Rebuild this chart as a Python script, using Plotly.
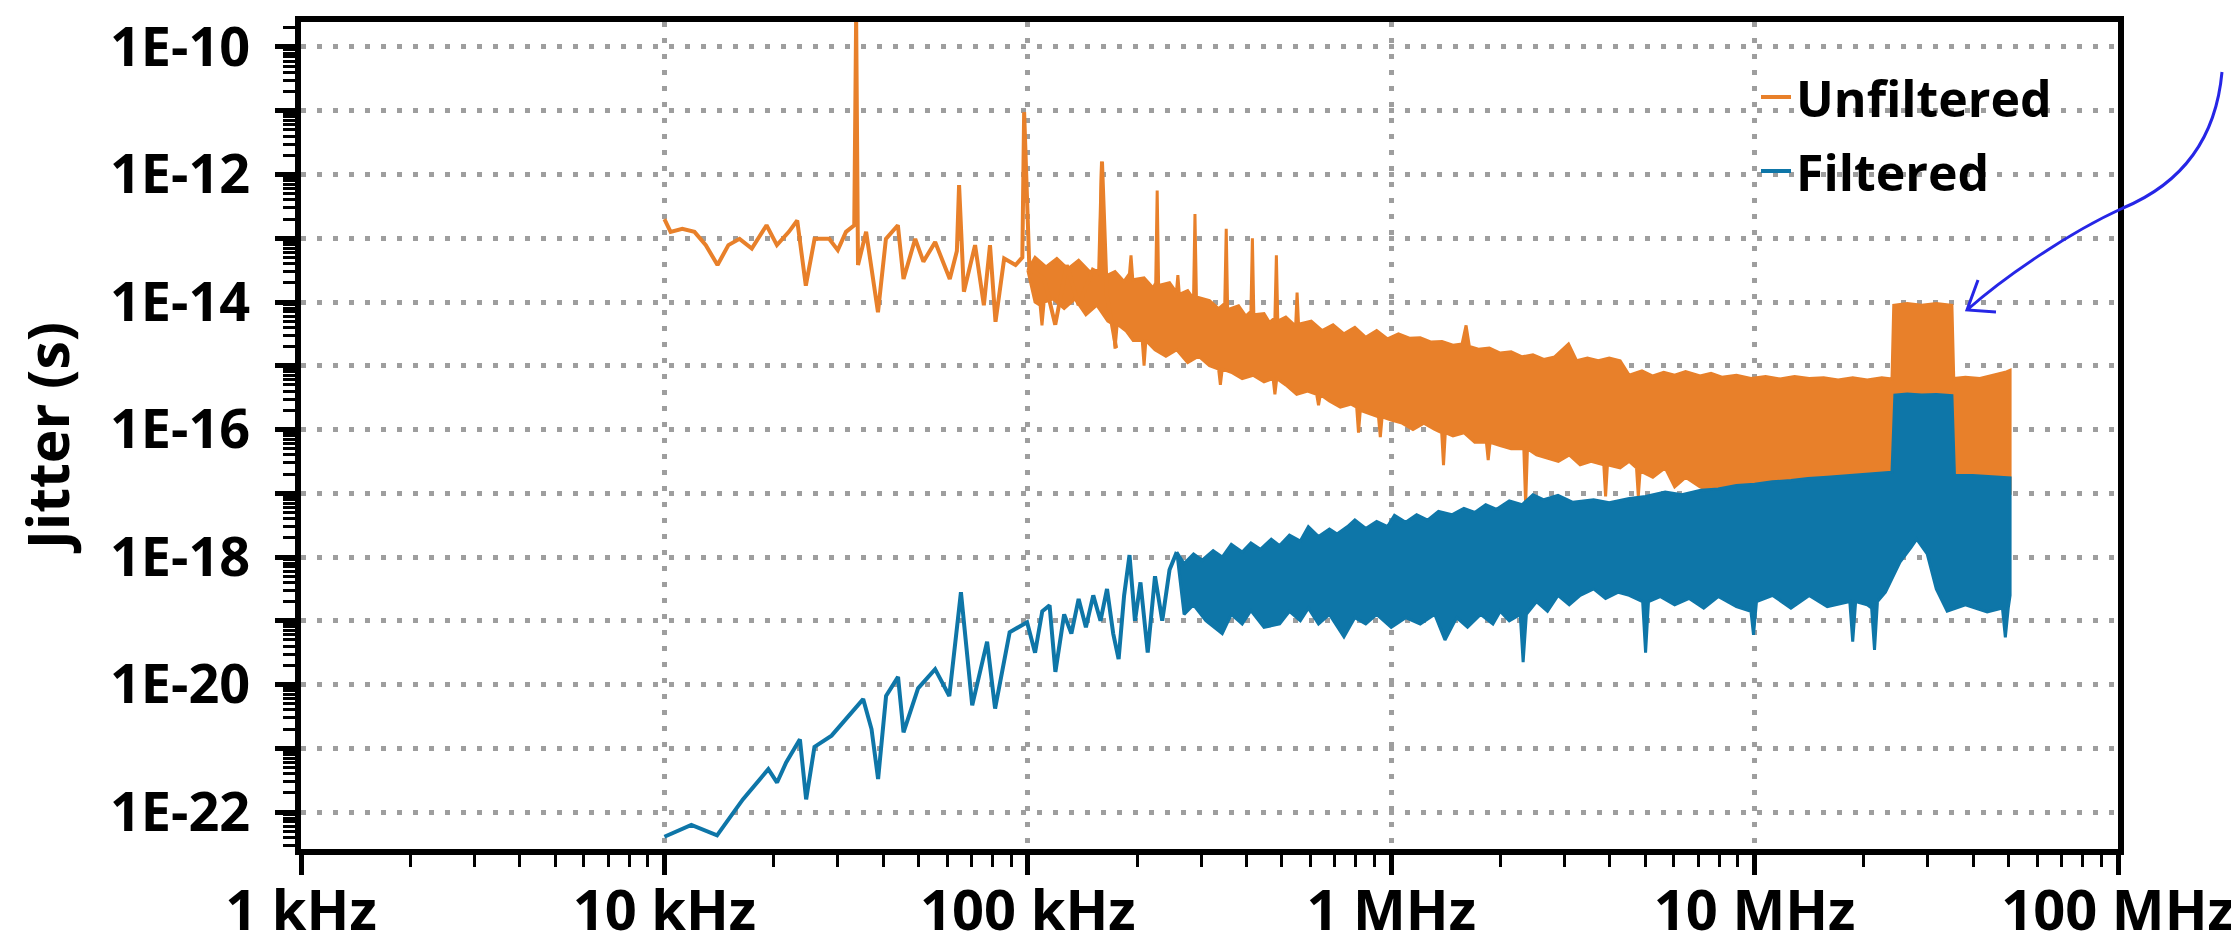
import plotly.graph_objects as go

# ---------------- axis ticks ----------------
freq_ticks = [1e3, 1e4, 1e5, 1e6, 1e7, 1e8]
freq_labels = ["1 kHz", "10 kHz", "100 kHz", "1 MHz", "10 MHz", "100 MHz"]
jit_ticks = [1e-22, 1e-21, 1e-20, 1e-19, 1e-18, 1e-17, 1e-16, 1e-15, 1e-14,
             1e-13, 1e-12, 1e-11, 1e-10]
jit_labels = ["1E-22", "", "1E-20", "", "1E-18", "", "1E-16", "", "1E-14",
              "", "1E-12", "", "1E-10"]
freq_minor = [m * 10 ** e for e in range(3, 8) for m in range(2, 10)]
jit_minor = [m * 10.0 ** e for e in range(-23, -9) for m in range(2, 10)]

# ---------------- Unfiltered: resolved low-frequency trace ----------------
unf_f = [1.00e4, 1.04e4, 1.12e4, 1.21e4, 1.30e4, 1.40e4, 1.50e4, 1.61e4, 1.74e4,
         1.91e4, 2.04e4, 2.20e4, 2.32e4, 2.45e4, 2.59e4, 2.84e4, 3.00e4, 3.16e4,
         3.33e4, 3.37e4, 3.41e4, 3.59e4, 3.87e4, 4.07e4, 4.39e4, 4.55e4, 4.90e4,
         5.16e4, 5.56e4, 6.10e4, 6.38e4, 6.47e4, 6.67e4, 7.16e4, 7.57e4, 7.87e4,
         8.15e4, 8.61e4, 9.25e4, 9.66e4, 9.77e4, 1.01e5, 1.11e5, 1.19e5, 1.28e5,
         1.38e5, 1.51e5, 1.58e5, 1.60e5, 1.65e5, 1.75e5]
unf_y = [2.0e-13, 1.26e-13, 1.41e-13, 1.26e-13, 7.8e-14, 3.8e-14, 7.8e-14, 9.8e-14, 6.9e-14,
         1.6e-13, 7.8e-14, 1.26e-13, 1.9e-13, 1.8e-14, 9.8e-14, 9.8e-14, 6.5e-14, 1.26e-13,
         1.6e-13, 3.0e-10, 3.8e-14, 1.26e-13, 6.9e-15, 9.8e-14, 1.6e-13, 2.3e-14, 9.8e-14,
         4.3e-14, 8.7e-14, 2.3e-14, 6.3e-14, 6.8e-13, 1.45e-14, 7.8e-14, 8.9e-15, 7.8e-14,
         4.9e-15, 4.8e-14, 3.8e-14, 5.0e-14, 9.5e-12, 3.4e-14, 2.3e-14, 4.4e-15, 3.8e-14,
         8.9e-15, 3.2e-14, 2.8e-14, 1.6e-12, 1.26e-14, 1.9e-15]

# ---------------- Unfiltered: dense band (upper / lower envelope) ----------------
unf_up_f = [1.00e5, 1.047e5, 1.122e5, 1.202e5, 1.288e5, 1.38e5, 1.479e5, 1.567e5, 1.596e5,
            1.626e5, 1.738e5, 1.84e5, 1.905e5, 1.923e5, 1.945e5, 2.089e5, 2.213e5, 2.249e5,
            2.27e5, 2.291e5, 2.455e5, 2.564e5, 2.588e5, 2.612e5, 2.754e5, 2.858e5, 2.884e5,
            2.911e5, 3.162e5, 3.35e5, 3.483e5, 3.516e5, 3.548e5, 3.802e5, 3.98e5, 4.111e5,
            4.15e5, 4.188e5, 4.467e5, 4.62e5, 4.786e5, 4.831e5, 4.875e5, 5.129e5, 5.458e5,
            5.508e5, 5.559e5, 6.026e5, 6.457e5, 6.918e5, 7.413e5, 7.943e5, 8.511e5, 9.12e5,
            9.772e5, 1.047e6, 1.122e6, 1.202e6, 1.288e6, 1.38e6, 1.479e6, 1.567e6, 1.607e6,
            1.641e6, 1.738e6, 1.862e6, 1.995e6, 2.138e6, 2.291e6, 2.455e6, 2.63e6, 2.818e6,
            3.076e6, 3.236e6, 3.467e6, 3.715e6, 3.981e6, 4.266e6, 4.519e6, 4.898e6, 5.248e6,
            5.623e6, 6.026e6, 6.457e6, 7.079e6, 7.586e6, 8.128e6, 8.913e6, 9.772e6, 1.072e7,
            1.175e7, 1.288e7, 1.413e7, 1.549e7, 1.698e7, 1.862e7, 2.042e7, 2.239e7, 2.388e7,
            2.415e7, 2.63e7, 2.884e7, 3.162e7, 3.491e7, 3.532e7, 3.802e7, 4.169e7, 4.571e7,
            4.898e7, 5.047e7]
unf_up_y = [3.16e-14, 5.0e-14, 3.55e-14, 4.8e-14, 3.3e-14, 4.5e-14, 3.0e-14, 3.16e-14, 1.58e-12,
            2.5e-14, 3.0e-14, 2.1e-14, 2.8e-14, 5.4e-14, 2.24e-14, 2.4e-14, 1.66e-14, 2.0e-14,
            5.6e-13, 1.82e-14, 2.0e-14, 1.41e-14, 2.63e-14, 1.32e-14, 1.51e-14, 1.12e-14, 2.4e-13,
            1.2e-14, 1.05e-14, 7.9e-15, 9.5e-15, 1.41e-13, 7.6e-15, 8.7e-15, 6.0e-15, 7.1e-15,
            1.0e-13, 6.3e-15, 6.6e-15, 4.8e-15, 5.6e-15, 5.4e-14, 5.0e-15, 5.8e-15, 4.2e-15,
            1.41e-14, 4.5e-15, 5.0e-15, 3.55e-15, 4.4e-15, 3.16e-15, 4.0e-15, 2.8e-15, 3.55e-15,
            2.63e-15, 3.16e-15, 2.7e-15, 2.75e-15, 2.35e-15, 2.4e-15, 2.1e-15, 2.2e-15, 4.3e-15,
            2.0e-15, 1.82e-15, 1.9e-15, 1.58e-15, 1.66e-15, 1.38e-15, 1.48e-15, 1.26e-15, 1.38e-15,
            2.2e-15, 1.2e-15, 1.32e-15, 1.2e-15, 1.32e-15, 1.2e-15, 7.1e-16, 8.3e-16, 6.9e-16,
            7.9e-16, 7.1e-16, 8.1e-16, 6.9e-16, 7.6e-16, 6.6e-16, 7.1e-16, 6.3e-16, 6.8e-16,
            6.2e-16, 6.8e-16, 6.3e-16, 6.5e-16, 6.0e-16, 6.5e-16, 6.0e-16, 6.5e-16, 6.2e-16,
            8.9e-15, 9.5e-15, 8.9e-15, 9.5e-15, 8.9e-15, 6.3e-16, 6.6e-16, 6.3e-16, 7.2e-16,
            7.9e-16, 8.5e-16]
unf_lo_f = [1.0e5, 1.047e5, 1.081e5, 1.094e5, 1.109e5, 1.175e5, 1.259e5, 1.349e5, 1.445e5,
            1.549e5, 1.66e5, 1.718e5, 1.738e5, 1.762e5, 1.862e5, 1.95e5, 2.065e5, 2.089e5,
            2.113e5, 2.239e5, 2.399e5, 2.57e5, 2.754e5, 2.951e5, 3.162e5, 3.35e5, 3.388e5,
            3.428e5, 3.631e5, 3.89e5, 4.169e5, 4.467e5, 4.732e5, 4.786e5, 4.842e5, 5.129e5,
            5.495e5, 5.888e5, 6.237e5, 6.31e5, 6.383e5, 6.761e5, 7.244e5, 7.762e5, 8.035e5,
            8.128e5, 8.222e5, 8.71e5, 9.226e5, 9.333e5, 9.441e5, 1.0e6, 1.072e6, 1.148e6,
            1.23e6, 1.318e6, 1.377e6, 1.393e6, 1.409e6, 1.479e6, 1.585e6, 1.698e6, 1.828e6,
            1.849e6, 1.871e6, 1.995e6, 2.138e6, 2.317e6, 2.344e6, 2.371e6, 2.512e6, 2.692e6,
            2.884e6, 3.09e6, 3.311e6, 3.548e6, 3.846e6, 3.89e6, 3.936e6, 4.266e6, 4.519e6,
            4.732e6, 4.786e6, 4.842e6, 5.248e6, 5.675e6, 6.026e6, 6.457e6, 7.079e6, 7.943e6,
            1.0e7, 1.585e7, 2.512e7, 3.981e7, 5.047e7]
unf_lo_y = [3.16e-14, 1.0e-14, 8.9e-15, 4.3e-15, 1.0e-14, 1.12e-14, 7.9e-15, 1.12e-14, 6.3e-15,
            8.9e-15, 5.0e-15, 4.5e-15, 1.86e-15, 4.5e-15, 3.55e-15, 2.5e-15, 2.5e-15, 1.0e-15,
            2.5e-15, 1.78e-15, 1.41e-15, 1.78e-15, 1.12e-15, 1.41e-15, 1.0e-15, 8.9e-16, 5.0e-16,
            8.9e-16, 7.9e-16, 6.3e-16, 7.1e-16, 5.6e-16, 6.3e-16, 3.55e-16, 6.3e-16, 5.0e-16,
            3.55e-16, 4.0e-16, 3.55e-16, 2.4e-16, 3.55e-16, 2.8e-16, 2.24e-16, 2.5e-16, 2.24e-16,
            8.9e-17, 2.0e-16, 1.78e-16, 1.58e-16, 7.6e-17, 1.58e-16, 1.41e-16, 1.26e-16, 1.0e-16,
            1.26e-16, 1.0e-16, 8.9e-17, 2.75e-17, 8.9e-17, 7.9e-17, 8.9e-17, 6.3e-17, 6.3e-17,
            3.3e-17, 6.3e-17, 5.6e-17, 5.0e-17, 5.0e-17, 6.6e-18, 5.0e-17, 4.0e-17, 3.55e-17,
            3.16e-17, 4.0e-17, 2.8e-17, 3.16e-17, 2.8e-17, 8.9e-18, 2.8e-17, 2.5e-17, 3.16e-17,
            2.5e-17, 8.9e-18, 2.24e-17, 1.78e-17, 2.5e-17, 1.26e-17, 1.78e-17, 1.26e-17, 1.0e-17,
            1.0e-17, 1.0e-17, 1.0e-17, 1.0e-17, 1.0e-17]

# ---------------- Filtered: resolved low-frequency trace ----------------
fil_f = [1.0e4, 1.186e4, 1.396e4, 1.644e4, 1.932e4, 2.042e4, 2.163e4, 2.36e4, 2.455e4,
         2.588e4, 2.884e4, 3.162e4, 3.524e4, 3.715e4, 3.873e4, 4.074e4, 4.395e4, 4.55e4,
         4.989e4, 5.559e4, 6.081e4, 6.546e4, 7.031e4, 7.727e4, 8.128e4, 8.913e4, 9.954e4,
         1.047e5, 1.096e5, 1.148e5, 1.191e5, 1.259e5, 1.318e5, 1.38e5, 1.445e5, 1.514e5,
         1.585e5, 1.652e5, 1.718e5, 1.778e5, 1.841e5, 1.905e5, 1.972e5, 2.042e5, 2.138e5,
         2.239e5, 2.344e5, 2.455e5, 2.57e5]
fil_y = [4.1e-23, 6.3e-23, 4.3e-23, 1.58e-22, 4.7e-22, 2.9e-22, 6.0e-22, 1.38e-21, 1.58e-22,
         1.05e-21, 1.58e-21, 2.9e-21, 5.9e-21, 2.0e-21, 3.3e-22, 6.6e-21, 1.32e-20, 1.78e-21,
         8.7e-21, 1.74e-20, 6.6e-21, 2.8e-19, 4.7e-21, 4.7e-20, 4.2e-21, 6.6e-20, 9.5e-20,
         3.16e-20, 1.41e-19, 1.74e-19, 1.58e-20, 1.26e-19, 6.3e-20, 2.2e-19, 7.9e-20, 2.5e-19,
         1.0e-19, 3.16e-19, 6.3e-20, 2.5e-20, 2.5e-19, 1.07e-18, 1.0e-19, 4.0e-19, 3.16e-20,
         5.0e-19, 1.0e-19, 6.3e-19, 1.2e-18]

# ---------------- Filtered: dense band (upper / lower envelope) ----------------
fil_up_f = [2.57e5, 2.692e5, 2.858e5, 3.02e5, 3.236e5, 3.428e5, 3.631e5, 3.89e5, 4.111e5,
            4.365e5, 4.677e5, 4.932e5, 5.248e5, 5.623e5, 5.916e5, 6.31e5, 6.761e5, 7.096e5,
            7.586e5, 7.943e5, 8.511e5, 9.12e5, 9.772e5, 1.021e6, 1.096e6, 1.175e6, 1.259e6,
            1.349e6, 1.469e6, 1.585e6, 1.698e6, 1.82e6, 1.95e6, 2.113e6, 2.291e6, 2.455e6,
            2.63e6, 2.877e6, 3.162e6, 3.606e6, 3.981e6, 4.519e6, 5.012e6, 5.675e6, 6.31e6,
            7.112e6, 7.943e6, 8.913e6, 1.0e7, 1.119e7, 1.259e7, 1.403e7, 1.585e7, 1.758e7,
            1.995e7, 2.208e7, 2.388e7, 2.432e7, 2.63e7, 2.884e7, 3.162e7, 3.491e7, 3.548e7,
            3.981e7, 4.467e7, 5.047e7]
fil_up_y = [1.2e-18, 7.9e-19, 1.12e-18, 8.9e-19, 1.26e-18, 1.0e-18, 1.58e-18, 1.2e-18, 1.66e-18,
            1.32e-18, 1.9e-18, 1.51e-18, 2.2e-18, 1.78e-18, 3.0e-18, 2.1e-18, 2.75e-18, 2.3e-18,
            3.0e-18, 3.8e-18, 2.8e-18, 3.6e-18, 3.0e-18, 4.5e-18, 3.5e-18, 4.6e-18, 3.8e-18,
            5.2e-18, 4.6e-18, 5.8e-18, 5.0e-18, 6.6e-18, 5.6e-18, 7.6e-18, 6.6e-18, 9.5e-18,
            7.9e-18, 9.3e-18, 7.2e-18, 7.9e-18, 7.1e-18, 8.3e-18, 8.9e-18, 1.05e-17, 9.5e-18,
            1.12e-17, 1.17e-17, 1.32e-17, 1.38e-17, 1.51e-17, 1.58e-17, 1.7e-17, 1.78e-17, 1.86e-17,
            2.0e-17, 2.04e-17, 2.14e-17, 3.47e-16, 3.6e-16, 3.47e-16, 3.55e-16, 3.4e-16, 1.9e-17,
            1.9e-17, 1.82e-17, 1.74e-17]
fil_lo_f = [2.57e5, 2.692e5, 2.858e5, 3.09e5, 3.428e5, 3.631e5, 3.89e5, 4.111e5, 4.467e5,
            4.932e5, 5.248e5, 5.623e5, 5.916e5, 6.31e5, 6.761e5, 7.413e5, 7.943e5, 8.511e5,
            9.12e5, 1.0e6, 1.096e6, 1.202e6, 1.318e6, 1.406e6, 1.514e6, 1.622e6, 1.762e6,
            1.905e6, 1.995e6, 2.113e6, 2.265e6, 2.307e6, 2.355e6, 2.512e6, 2.692e6, 2.877e6,
            3.09e6, 3.311e6, 3.606e6, 3.89e6, 4.217e6, 4.519e6, 4.92e6, 5.012e6, 5.105e6,
            5.495e6, 6.026e6, 6.607e6, 7.244e6, 7.943e6, 8.913e6, 9.772e6, 9.931e6, 1.012e7,
            1.122e7, 1.259e7, 1.413e7, 1.585e7, 1.828e7, 1.862e7, 1.897e7, 2.042e7, 2.099e7,
            2.138e7, 2.178e7, 2.291e7, 2.512e7, 2.692e7, 2.793e7, 2.985e7, 3.162e7, 3.388e7,
            3.802e7, 4.365e7, 4.808e7, 4.898e7, 4.989e7, 5.047e7]
fil_lo_y = [1.2e-18, 1.26e-19, 1.78e-19, 1.0e-19, 6.3e-20, 1.26e-19, 8.9e-20, 1.45e-19, 7.9e-20,
            8.9e-20, 1.41e-19, 1.0e-19, 1.58e-19, 8.9e-20, 1.26e-19, 5.6e-20, 1.12e-19, 8.9e-20,
            1.26e-19, 7.9e-20, 1.12e-19, 8.9e-20, 1.26e-19, 5.0e-20, 1.12e-19, 7.9e-20, 1.26e-19,
            8.9e-20, 1.41e-19, 1.0e-19, 1.26e-19, 2.24e-20, 1.26e-19, 2.0e-19, 1.41e-19, 2.5e-19,
            1.78e-19, 2.5e-19, 3.16e-19, 2.24e-19, 2.8e-19, 2.5e-19, 2.0e-19, 3.16e-20, 2.0e-19,
            2.4e-19, 1.78e-19, 2.24e-19, 1.58e-19, 2.4e-19, 1.66e-19, 1.41e-19, 6.0e-20, 2.0e-19,
            2.5e-19, 1.58e-19, 2.5e-19, 1.66e-19, 2.0e-19, 4.7e-20, 2.0e-19, 1.78e-19, 1.58e-19,
            3.5e-20, 2.0e-19, 2.8e-19, 8.3e-19, 1.41e-18, 1.9e-18, 1.12e-18, 3.16e-19, 1.41e-19,
            1.78e-19, 1.38e-19, 1.58e-19, 5.5e-20, 1.58e-19, 2.5e-19]

ORANGE = "#E8802A"
BLUE = "#0E76A8"

fig = go.Figure()

# Unfiltered
fig.add_trace(go.Scatter(x=unf_up_f + unf_lo_f[::-1], y=unf_up_y + unf_lo_y[::-1],
                         mode="lines", fill="toself", fillcolor=ORANGE,
                         line=dict(color=ORANGE, width=3), showlegend=False,
                         hoverinfo="skip"))
fig.add_trace(go.Scatter(x=unf_f, y=unf_y, mode="lines", name="Unfiltered",
                         line=dict(color=ORANGE, width=4), legendgroup="u"))
# Filtered
fig.add_trace(go.Scatter(x=fil_up_f + fil_lo_f[::-1], y=fil_up_y + fil_lo_y[::-1],
                         mode="lines", fill="toself", fillcolor=BLUE,
                         line=dict(color=BLUE, width=3), showlegend=False,
                         hoverinfo="skip"))
fig.add_trace(go.Scatter(x=fil_f, y=fil_y, mode="lines", name="Filtered",
                         line=dict(color=BLUE, width=4), legendgroup="f"))

W, H = 2239, 948
ML, MR, MT, MB = 293, 129, 14, 107
PW, PH = W - ML - MR, H - MT - MB

FONT = "Open Sans"
GRID = "#9E9E9E"

axis_common = dict(
    type="log", showline=True, linewidth=6, linecolor="black", mirror=True,
    ticks="outside", ticklen=20, tickwidth=5, tickcolor="black",
    showgrid=True, gridcolor=GRID, gridwidth=5, griddash="5px,11px",
    zeroline=False, ticklabeloverflow="allow",
)

fig.update_xaxes(
    **axis_common, range=[3, 8], tickmode="array", tickvals=freq_ticks,
    ticktext=freq_labels, ticklabelstandoff=-12,
    tickfont=dict(family=FONT, size=56, color="black", weight="bold"),
    minor=dict(tickmode="array", tickvals=freq_minor, ticks="outside",
               ticklen=12, tickwidth=3, tickcolor="black", showgrid=False),
)
fig.update_yaxes(
    **axis_common, range=[-22.58, -9.608], tickmode="array", tickvals=jit_ticks,
    ticktext=jit_labels, ticklabelstandoff=14,
    tickfont=dict(family=FONT, size=54, color="black", weight="bold"),
    minor=dict(tickmode="array", tickvals=jit_minor, ticks="outside",
               ticklen=12, tickwidth=3, tickcolor="black", showgrid=False),
    title=dict(text="Jitter (s)", standoff=34,
               font=dict(family=FONT, size=57, color="black", weight="bold")),
)

# hand-drawn blue arrow (pixel coordinates converted to paper fractions)
def px(X):
    return (X - ML) / PW

def py(Y):
    return (H - MB - Y) / PH

arrow_path = (
    f"M {px(2214)} {py(64)} C {px(2208)} {py(130)} {px(2175)} {py(175)} {px(2115)} {py(200)} "
    f"C {px(2060)} {py(225)} {px(1995)} {py(270)} {px(1959)} {py(302)} "
    f"M {px(1970)} {py(272)} L {px(1959)} {py(302)} L {px(1988)} {py(304)}"
)
fig.add_shape(type="path", path=arrow_path, xref="paper", yref="paper",
              line=dict(color="#2626E6", width=3), layer="above")

fig.update_layout(
    width=W, height=H,
    margin=dict(l=ML, r=MR, t=MT, b=MB, autoexpand=False),
    paper_bgcolor="white", plot_bgcolor="white",
    showlegend=True,
    legend=dict(x=px(1748), y=py(50), xanchor="left", yanchor="top",
                bgcolor="rgba(0,0,0,0)", borderwidth=0,
                traceorder="grouped", tracegroupgap=6,
                font=dict(family=FONT, size=50, color="black", weight="bold")),
)

fig.write_html("out.html")
